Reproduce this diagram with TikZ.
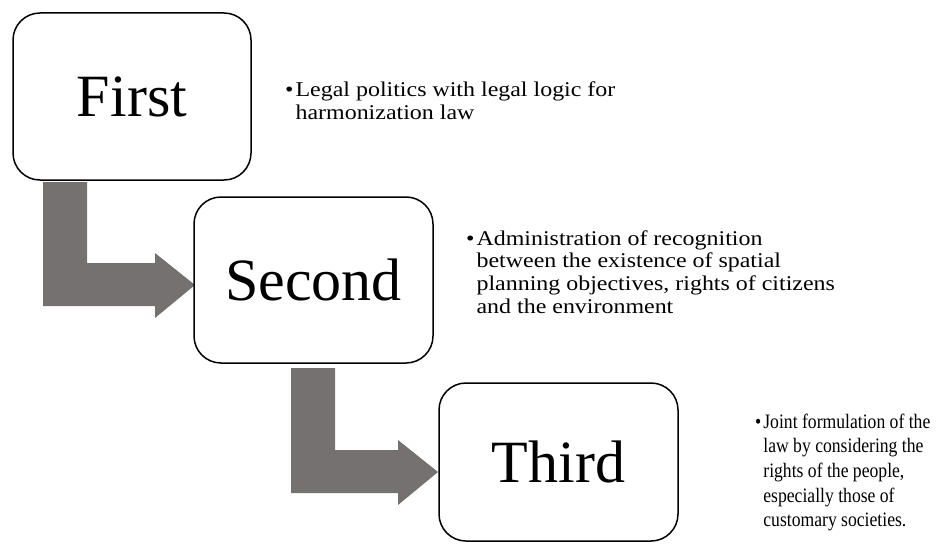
\documentclass[tikz,border=0pt]{standalone}
\usepackage{fontspec}
\setmainfont{Liberation Serif}
\newfontfamily\widefont[FakeStretch=1.14]{Liberation Serif}
\newfontfamily\narrowfont[FakeStretch=0.86]{Liberation Serif}
\usetikzlibrary{calc}
\definecolor{arrowgray}{HTML}{767171}
\tikzset{
  stage/.style={draw, line width=1.5pt, rounded corners=27pt, fill=white,
    inner sep=0pt, font=\fontsize{60}{60}\selectfont},
  note/.style={anchor=base west, inner sep=0pt, align=left}
}
% bent block arrow: top left of the bar, then the tip
\newcommand{\bentarrow}[2]{%
  \fill[arrowgray] let \p1=(#1), \p2=(#2) in
    (\x1,\y1) -- (\x1+44pt,\y1) -- (\x1+44pt,\y2+22pt) -- (\x2-40pt,\y2+22pt)
    -- (\x2-40pt,\y2+32pt) -- (\x2,\y2) -- (\x2-40pt,\y2-33pt)
    -- (\x2-40pt,\y2-21pt) -- (\x1,\y2-21pt) -- cycle;}
\begin{document}
\begin{tikzpicture}[x=1pt,y=-1pt]
\useasboundingbox (0,0) rectangle (936,543);
\coordinate (bar1) at (43,182);
\coordinate (tip1) at (195,285);
\coordinate (bar2) at (291,368);
\coordinate (tip2) at (438,472);
\bentarrow{bar1}{tip1}
\bentarrow{bar2}{tip2}
\node[stage, minimum width=238pt, minimum height=167pt] (first) at (132,96.5) {First};
\node[stage, minimum width=239pt, minimum height=166pt] (second) at (313.5,280) {Second};
\node[stage, minimum width=239pt, minimum height=158pt] (third) at (558.5,462) {Third};
\node[note, font=\widefont\fontsize{21}{23.3}\selectfont] (firstnote) at (285,96)
  {\begin{tabular}[t]{@{}l@{\hspace{2pt}}l@{}}\textbullet & Legal politics with legal logic for\\
   & harmonization law\end{tabular}};
\node[note, font=\widefont\fontsize{21}{22.8}\selectfont] (secondnote) at (466,245)
  {\begin{tabular}[t]{@{}l@{\hspace{2pt}}l@{}}\textbullet & Administration of recognition\\
   & between the existence of spatial\\
   & planning objectives, rights of citizens\\
   & and the environment\end{tabular}};
\node[note, font=\narrowfont\fontsize{20.5}{24.7}\selectfont] (thirdnote) at (755,428)
  {\begin{tabular}[t]{@{}l@{\hspace{2pt}}l@{}}\textbullet & Joint formulation of the\\
   & law by considering the\\
   & rights of the people,\\
   & especially those of\\
   & customary societies.\end{tabular}};
\end{tikzpicture}
\end{document}
